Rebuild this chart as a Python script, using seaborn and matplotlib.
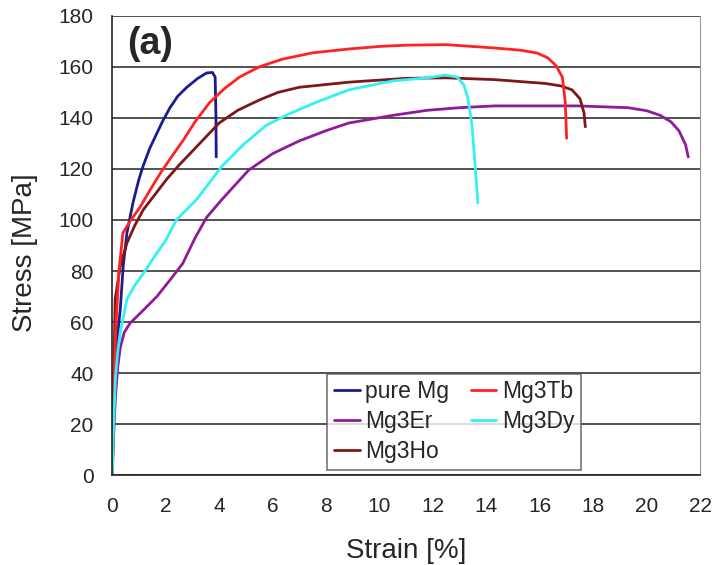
import pandas as pd
import matplotlib
matplotlib.use("Agg")
import matplotlib.pyplot as plt
import seaborn as sns

# strain [%] / stress [MPa]
pure_mg_strain = [0, 0.05, 0.11, 0.2, 0.3, 0.41, 0.55, 0.78, 1.0, 1.15, 1.4, 1.67, 1.9, 2.16, 2.45, 2.79, 3.2, 3.53, 3.75, 3.85, 3.88, 3.89]
pure_mg_stress = [0, 25, 42, 55, 65, 82, 95, 107, 116, 121, 128, 134, 139, 144, 148.5, 152, 155.5, 157.6, 157.8, 156, 140, 124.7]

tb_strain = [0, 0.05, 0.12, 0.25, 0.4, 0.7, 1.04, 1.4, 1.78, 2.2, 2.64, 3.1, 3.64, 4.2, 4.76, 5.5, 6.36, 7.5, 8.85, 10.0, 11.0, 12.5, 14.3, 15.3, 15.9, 16.3, 16.6, 16.84, 16.95, 17.0]
tb_stress = [0, 30, 55, 80, 95, 100, 105, 111.5, 118, 124.5, 131, 138.5, 146, 151.5, 156, 160, 163, 165.5, 167, 168, 168.5, 168.7, 167.4, 166.5, 165.4, 163.5, 160.5, 156, 146, 132]

er_strain = [0, 0.05, 0.11, 0.2, 0.3, 0.45, 0.67, 1.1, 1.67, 2.2, 2.64, 3.1, 3.53, 4.1, 5.1, 6.0, 7.0, 8.0, 8.85, 10.5, 11.8, 13.0, 14.3, 17.4, 19.3, 20.0, 20.5, 20.9, 21.2, 21.45, 21.55]
er_stress = [0, 15, 29, 42, 50, 56, 59.6, 64, 70, 77, 83, 93, 101, 108, 119.5, 126, 131, 135, 138, 141, 143, 144, 144.7, 144.7, 144, 142.8, 141, 138.5, 135, 129.5, 124.7]

dy_strain = [0, 0.05, 0.12, 0.2, 0.3, 0.55, 0.85, 1.16, 1.6, 2.0, 2.4, 3.15, 4.1, 4.9, 5.75, 6.6, 7.6, 8.85, 10.5, 11.8, 12.45, 12.9, 13.15, 13.3, 13.45, 13.55, 13.68]
dy_stress = [0, 20, 38, 48, 56, 69, 74.5, 79, 86, 92, 100, 108, 121, 129.5, 137, 141.5, 146, 151, 154.5, 155.7, 156.8, 156, 153, 148, 138, 125, 106.7]

ho_strain = [0, 0.05, 0.11, 0.3, 0.55, 0.85, 1.16, 1.6, 2.04, 2.5, 3.0, 3.5, 4.0, 4.7, 5.5, 6.2, 7.0, 8.85, 11.0, 12.5, 14.3, 16.2, 16.8, 17.2, 17.5, 17.65, 17.7]
ho_stress = [0, 35, 69, 82, 91, 98, 104, 110, 116, 121.5, 127, 132.5, 138, 143, 147, 150, 152, 154, 155.5, 155.7, 155, 153.5, 152.5, 151, 147.5, 142, 136.5]

series = [
    ("pure Mg", pure_mg_strain, pure_mg_stress),
    ("Mg3Er", er_strain, er_stress),
    ("Mg3Ho", ho_strain, ho_stress),
    ("Mg3Tb", tb_strain, tb_stress),
    ("Mg3Dy", dy_strain, dy_stress),
]
colors = {"pure Mg": "#1c1c8e", "Mg3Er": "#8e1c9a", "Mg3Ho": "#7d1818",
          "Mg3Tb": "#ff2222", "Mg3Dy": "#33f0f5"}

rows = []
for name, xs, ys in series:
    for i, (x, y) in enumerate(zip(xs, ys)):
        rows.append({"alloy": name, "idx": i, "Strain": x, "Stress": y})
df = pd.DataFrame(rows)

sns.set_style("white")
plt.rcParams['font.family'] = ['Liberation Sans', 'DejaVu Sans']

fig = plt.figure(figsize=(7.15, 5.65), dpi=100)
ax = fig.add_axes([0.157, 0.159, 0.8224, 0.813])

for name, _, _ in series:
    sub = df[df["alloy"] == name]
    sns.lineplot(data=sub, x="Strain", y="Stress", sort=False, estimator=None,
                 color=colors[name], linewidth=2.0, label=name, ax=ax)

ax.set_xlim(0, 22)
ax.set_ylim(0, 180)
ax.set_xticks(range(0, 23, 2))
ax.set_yticks(range(0, 181, 20))
ax.yaxis.grid(True, color="#444444", linewidth=1.3)
ax.set_axisbelow(True)
for s in ["left", "bottom"]:
    ax.spines[s].set_color("#222222")
    ax.spines[s].set_linewidth(1.2)
ax.spines["right"].set_color("#999999")
ax.spines["top"].set_visible(False)
ax.tick_params(axis="both", direction="out", length=6.5, width=1, labelsize=15,
               color="#555555", pad=7)
ax.tick_params(axis="x", pad=9)

ax.set_xlabel("Strain [%]", fontsize=20, labelpad=16)
ax.set_ylabel("Stress [MPa]", fontsize=20, labelpad=15)
ax.yaxis.label.set_y(0.484)
ax.text(0.55, 169, "(a)", fontsize=27, fontweight="bold", va="center")

leg = ax.legend(ncol=2, loc="lower left", bbox_to_anchor=(0.366, 0.011),
                fontsize=16.5, frameon=True, fancybox=False,
                handlelength=1.1, handletextpad=0.25, columnspacing=0.95,
                labelspacing=0.3, borderpad=0.3, borderaxespad=0)
leg.get_frame().set_edgecolor("#555555")
leg.get_frame().set_linewidth(1.2)

fig.savefig("out.png", dpi=100)
